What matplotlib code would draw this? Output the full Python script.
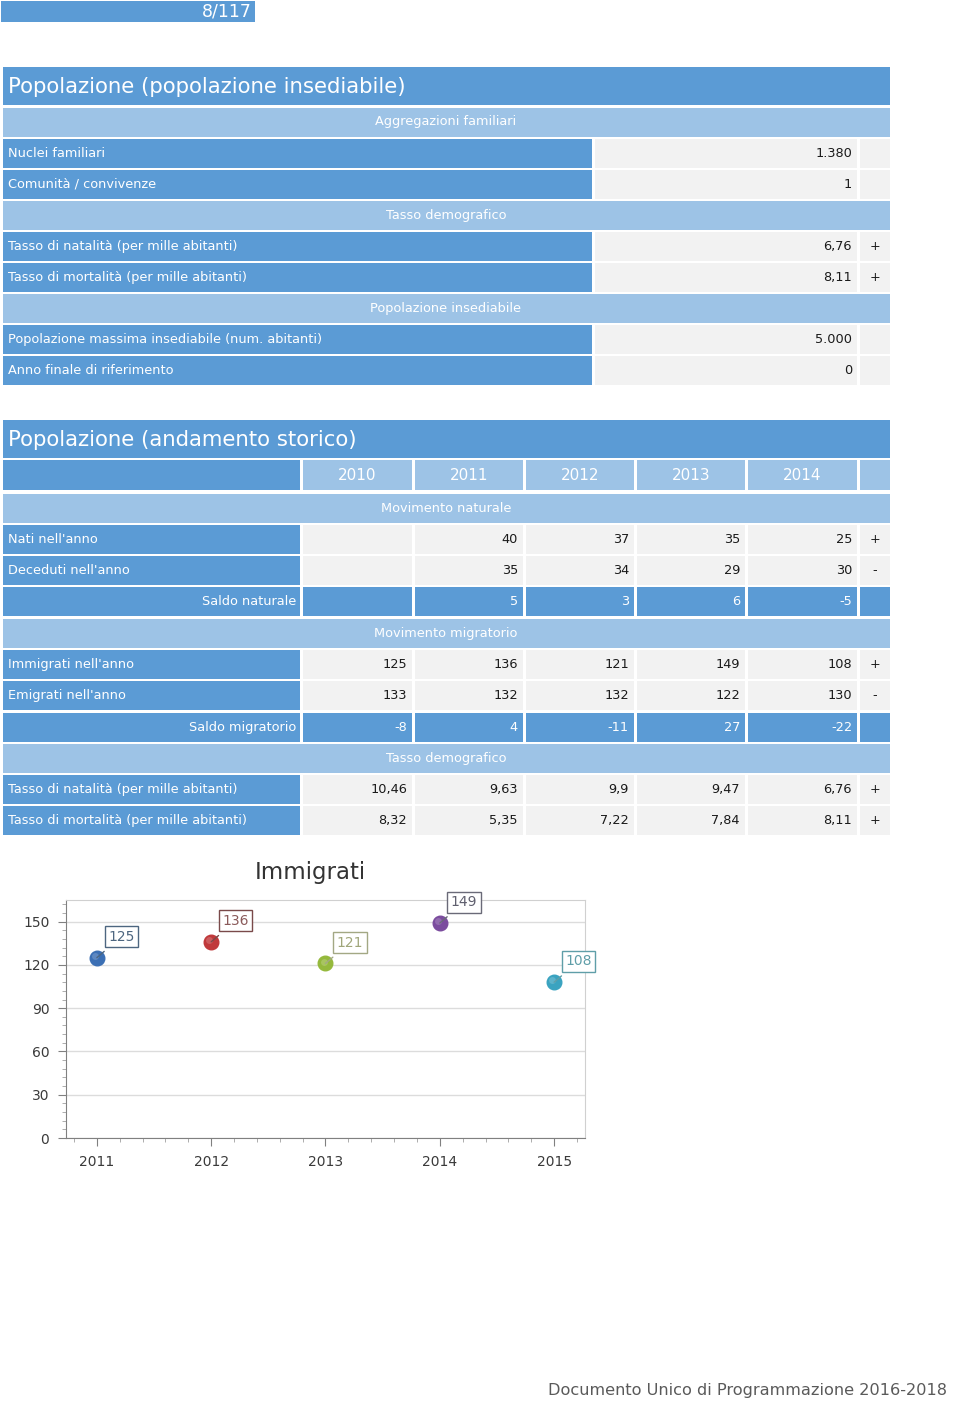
import matplotlib.pyplot as plt
from matplotlib.patches import Rectangle
from matplotlib.ticker import MultipleLocator

plt.rcParams['font.family'] = ['DejaVu Sans']

# ---- data ----
pagina = '8/117'
titolo1 = 'Popolazione (popolazione insediabile)'
tab1_righe = [
    ('sec', 'Aggregazioni familiari', '', ''),
    ('row', 'Nuclei familiari', '1.380', ''),
    ('row', 'Comunità / convivenze', '1', ''),
    ('sec', 'Tasso demografico', '', ''),
    ('row', 'Tasso di natalità (per mille abitanti)', '6,76', '+'),
    ('row', 'Tasso di mortalità (per mille abitanti)', '8,11', '+'),
    ('sec', 'Popolazione insediabile', '', ''),
    ('row', 'Popolazione massima insediabile (num. abitanti)', '5.000', ''),
    ('row', 'Anno finale di riferimento', '0', ''),
]

titolo2 = 'Popolazione (andamento storico)'
anni = ['2010', '2011', '2012', '2013', '2014']
nati = ['', '40', '37', '35', '25']
deceduti = ['', '35', '34', '29', '30']
saldo_nat = ['', '5', '3', '6', '-5']
immigrati = ['125', '136', '121', '149', '108']
emigrati = ['133', '132', '132', '122', '130']
saldo_mig = ['-8', '4', '-11', '27', '-22']
natalita = ['10,46', '9,63', '9,9', '9,47', '6,76']
mortalita = ['8,32', '5,35', '7,22', '7,84', '8,11']

tab2_righe = [
    ('sec', 'Movimento naturale', None, ''),
    ('row', "Nati nell'anno", nati, '+'),
    ('row', "Deceduti nell'anno", deceduti, '-'),
    ('sum', 'Saldo naturale', saldo_nat, ''),
    ('sec', 'Movimento migratorio', None, ''),
    ('row', "Immigrati nell'anno", immigrati, '+'),
    ('row', "Emigrati nell'anno", emigrati, '-'),
    ('sum', 'Saldo migratorio', saldo_mig, ''),
    ('sec', 'Tasso demografico', None, ''),
    ('row', 'Tasso di natalità (per mille abitanti)', natalita, '+'),
    ('row', 'Tasso di mortalità (per mille abitanti)', mortalita, '+'),
]

grafico_titolo = 'Immigrati'
grafico_anni = [2011, 2012, 2013, 2014, 2015]
grafico_valori = [125, 136, 121, 149, 108]
grafico_colori = ['#3b6fb4', '#c0393b', '#95b93c', '#7b4c9e', '#3aa3c0']
etichetta_bordo = ['#4d6680', '#7a4a4a', '#a3a884', '#6a6a78', '#5f9ea8']
etichetta_testo = ['#4d6680', '#8a5a5a', '#a0a67a', '#5f5f6e', '#5f9ea8']

piede = 'Documento Unico di Programmazione 2016-2018'

BLU = '#5b9bd5'
AZZ = '#9dc3e6'
GRI = '#f2f2f2'
FS = 9.3

fig = plt.figure(figsize=(9.6, 14.02), dpi=100)
page = fig.add_axes([0, 0, 1, 1])
page.set_xlim(0, 960)
page.set_ylim(1402, 0)
page.axis('off')


def cell(x0, x1, yc, h, color):
    page.add_patch(Rectangle((x0, yc - h / 2), x1 - x0, h, facecolor=color,
                             edgecolor='none'))


# page number
page.add_patch(Rectangle((1, 1), 254, 21, facecolor=BLU, edgecolor='none'))
page.text(252, 12, pagina, color='white', fontsize=12.5, ha='right', va='center')

# ---- table 1 ----
cell(3, 890, 86, 38, BLU)
page.text(8, 87, titolo1, color='white', fontsize=15.3, ha='left', va='center')
y = 122
for kind, lab, val, sgn in tab1_righe:
    if kind == 'sec':
        cell(3, 890, y, 29, AZZ)
        page.text(446, y, lab, color='white', fontsize=FS, ha='center', va='center')
    else:
        cell(3, 592, y, 29, BLU)
        cell(595, 857, y, 29, GRI)
        cell(860, 890, y, 29, GRI)
        page.text(8, y, lab, color='white', fontsize=FS, ha='left', va='center')
        page.text(852, y, val, color='#1a1a1a', fontsize=FS, ha='right', va='center')
        page.text(875, y, sgn, color='#1a1a1a', fontsize=FS, ha='center', va='center')
    y += 31.1

# ---- table 2 ----
cols = [(303, 412), (415, 523), (526, 634), (637, 745), (748, 857)]
cell(3, 890, 439, 38, BLU)
page.text(8, 440, titolo2, color='white', fontsize=15.3, ha='left', va='center')
y = 475
cell(3, 300, y, 30, BLU)
for (x0, x1), a in zip(cols, anni):
    cell(x0, x1, y, 30, AZZ)
    page.text((x0 + x1) / 2, y, a, color='white', fontsize=11, ha='center', va='center')
cell(860, 890, y, 30, AZZ)
y = 508
for kind, lab, vals, sgn in tab2_righe:
    if kind == 'sec':
        cell(3, 890, y, 29, AZZ)
        page.text(446, y, lab, color='white', fontsize=FS, ha='center', va='center')
    else:
        bg = BLU if kind == 'sum' else GRI
        tc = 'white' if kind == 'sum' else '#1a1a1a'
        cell(3, 300, y, 29, BLU)
        for (x0, x1), v in zip(cols, vals):
            cell(x0, x1, y, 29, bg)
            page.text(x1 - 5, y, v, color=tc, fontsize=FS, ha='right', va='center')
        cell(860, 890, y, 29, bg)
        page.text(875, y, sgn, color='#1a1a1a', fontsize=FS, ha='center', va='center')
        if kind == 'sum':
            page.text(296, y, lab, color='white', fontsize=FS, ha='right', va='center')
        else:
            page.text(8, y, lab, color='white', fontsize=FS, ha='left', va='center')
    y += 31.3

# footer
page.text(548, 1391, piede, color='#5a5a5a', fontsize=11.6, ha='left', va='center')

# ---- chart ----
ax = fig.add_axes([66 / 960, 1 - 1138 / 1402, (585 - 66) / 960, (1138 - 900) / 1402])
ax.set_xlim(2010.73, 2015.27)
ax.set_ylim(0, 165)
ax.set_yticks([0, 30, 60, 90, 120, 150])
ax.set_xticks(grafico_anni)
ax.xaxis.set_minor_locator(MultipleLocator(0.2))
ax.yaxis.set_minor_locator(MultipleLocator(6))
ax.grid(axis='y', color='#dcdcdc', lw=1)
ax.set_axisbelow(True)
for s in ['top', 'right']:
    ax.spines[s].set_color('#d0d0d0')
for s in ['left', 'bottom']:
    ax.spines[s].set_color('#808080')
ax.tick_params(which='major', length=6, color='#808080', labelsize=10,
               labelcolor='#3a3a3a', pad=6)
ax.tick_params(which='minor', length=3, color='#a0a0a0')
fig.text(310 / 960, 1 - 873 / 1402, grafico_titolo, fontsize=16.5, color='#333333',
         ha='center', va='center')

for xv, yv, c, bc, tc in zip(grafico_anni, grafico_valori, grafico_colori,
                             etichetta_bordo, etichetta_testo):
    ax.plot(xv, yv, 'o', ms=10.5, color=c, mec=c, zorder=4)
    ax.plot(xv - 0.015, yv + 1.2, 'o', ms=5, color='white', alpha=0.18, mec='none', zorder=5)
    ax.annotate(str(yv), (xv, yv), xytext=(8, 10), textcoords='offset points',
                fontsize=10, color=tc, ha='left', va='bottom',
                bbox=dict(boxstyle='square,pad=0.25', fc='white', ec=bc, lw=1),
                arrowprops=dict(arrowstyle='-', color=bc, lw=1, shrinkA=4, shrinkB=0),
                zorder=6)

fig.savefig('out.png', dpi=100)
